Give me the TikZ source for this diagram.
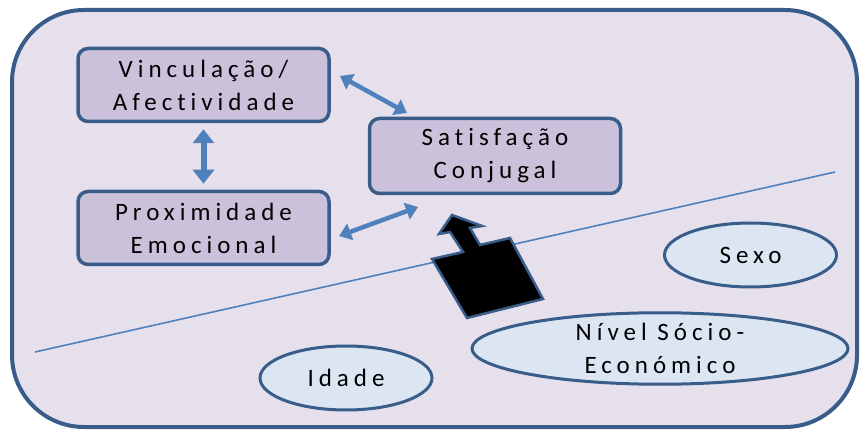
\documentclass[tikz,border=0pt]{standalone}
\usepackage{fontspec}
\setmainfont{Carlito}[LetterSpace=20,Ligatures=NoCommon]
\usetikzlibrary{shapes.geometric,arrows.meta}
\definecolor{frame}{HTML}{385D8A}
\definecolor{bgfill}{HTML}{E6E0EC}
\definecolor{boxfill}{HTML}{CCC1DA}
\definecolor{ovalfill}{HTML}{DCE6F2}
\definecolor{arrowblue}{HTML}{4F81BD}
\tikzset{
    factorbox/.style={shape=rectangle,rounded corners=10pt,draw=frame,line width=3.5pt,fill=boxfill,
        minimum width=251pt,minimum height=73pt,align=center,font=\fontsize{25}{33}\selectfont},
    factoroval/.style={shape=ellipse,draw=frame,line width=3pt,fill=ovalfill,inner sep=0pt,
        minimum width=172pt,minimum height=64pt,align=center,font=\fontsize{25}{33}\selectfont},
    twoway/.style={color=arrowblue,line width=6pt,
        arrows={Triangle[length=14pt,width=21pt]-Triangle[length=14pt,width=21pt]}},
    twowaythin/.style={color=arrowblue,line width=4.5pt,
        arrows={Triangle[length=12pt,width=17pt]-Triangle[length=12pt,width=17pt]}}
}
\begin{document}
\begin{tikzpicture}[x=1pt,y=-1pt]
    \useasboundingbox (0,0) rectangle (860,430);
    \draw[rounded corners=72pt,draw=frame,line width=4pt,fill=bgfill] (12,10) rectangle (857,427);

    \coordinate (LineStart) at (35,352);
    \coordinate (LineEnd) at (835,172);
    \draw[arrowblue,line width=1.6pt] (LineStart) -- (LineEnd);

    \node[factorbox] (Vinculacao) at (203.5,85) {Vinculação/\\Afectividade};
    \node[factorbox] (Proximidade) at (203.5,228) {Proximidade\\Emocional};
    \node[factorbox,minimum height=75pt] (Satisfacao) at (495,156) {Satisfação\\Conjugal};
    \node[factoroval] (Sexo) at (750.5,255) {Sexo};
    \node[factoroval] (Idade) at (346,378) {Idade};
    \node[factoroval,minimum width=376pt,minimum height=67pt] (Nivel) at (660,348.5) {Nível Sócio-\\Económico};

    \coordinate (UpperA) at (340,76);
    \coordinate (UpperB) at (407,113);
    \coordinate (LowerA) at (339,236);
    \coordinate (LowerB) at (418,207);

    \path [twoway,shorten >=6pt,shorten <=6pt] (Vinculacao) edge (Proximidade);
    \path [twowaythin] (UpperA) edge (UpperB);
    \path [twowaythin] (LowerA) edge (LowerB);

    \draw[draw=frame,line width=2.5pt,fill=black,line join=miter]
        (452,215) -- (482,226) -- (470,228) -- (480,245) -- (510,238) -- (543,299)
        -- (467,318) -- (432,259) -- (463,252) -- (450,232) -- (439,234) -- cycle;
\end{tikzpicture}
\end{document}
